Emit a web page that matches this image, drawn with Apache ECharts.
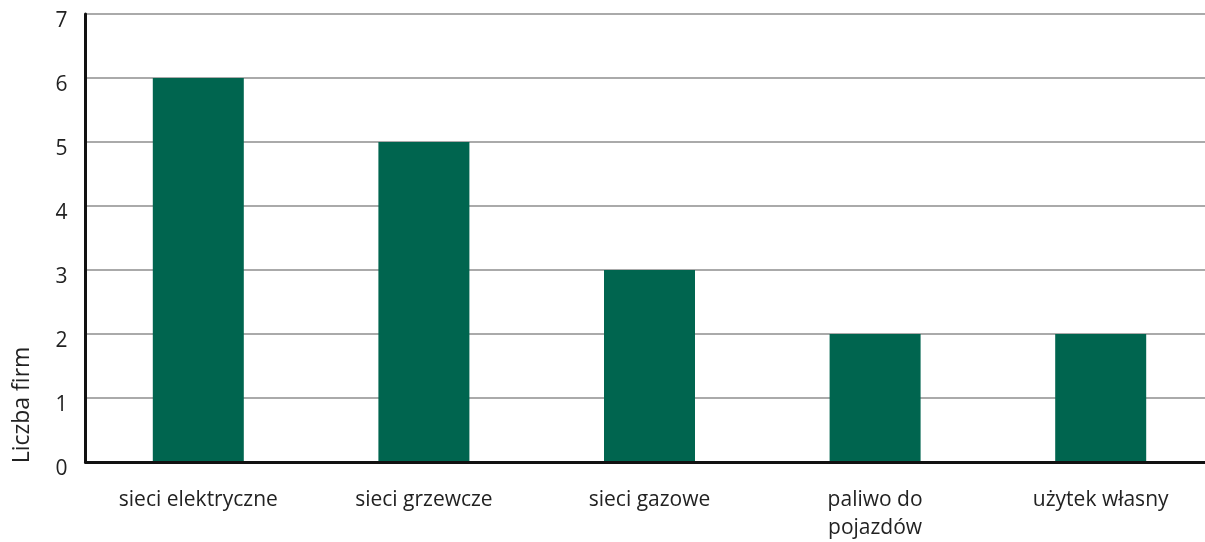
<!DOCTYPE html>
<html><head><meta charset="utf-8">
<script src="https://cdn.jsdelivr.net/npm/echarts@6/dist/echarts.min.js"></script>
<style>html,body{margin:0;padding:0;background:#fff}#c{width:1205px;height:542px}</style>
</head><body><div id="c"></div>
<script>
const categories = ['sieci elektryczne', 'sieci grzewcze', 'sieci gazowe', 'paliwo do\npojazdów', 'użytek własny'];
const values = [6, 5, 3, 2, 2];
const yTicks = [0, 1, 2, 3, 4, 5, 6, 7];
const yAxisTitle = 'Liczba firm';

const chart = echarts.init(document.getElementById('c'));
const font = '"Open Sans", "Noto Sans", sans-serif';
chart.setOption({
  animation: false,
  grid: { left: 85.5, top: 14, width: 1128, height: 448, containLabel: false, outerBoundsMode: 'none' },
  xAxis: {
    type: 'category', data: categories,
    axisLine: { show: true, lineStyle: { color: '#111', width: 3 } },
    axisTick: { show: false },
    axisLabel: { color: '#222', fontSize: 21, fontFamily: font, margin: 24, lineHeight: 28, interval: 0 },
    z: 5
  },
  yAxis: {
    type: 'value', min: yTicks[0], max: yTicks[yTicks.length - 1], interval: 1,
    axisLine: { show: true, lineStyle: { color: '#111', width: 3 } },
    axisTick: { show: false },
    splitLine: { show: true, lineStyle: { color: '#aaa', width: 2 } },
    axisLabel: { color: '#222', fontSize: 21, fontFamily: font, margin: 18, verticalAlign: 'top', lineHeight: 15 }
  },
  graphic: [{
    type: 'text', x: 22, y: 405, rotation: Math.PI / 2,
    style: { text: yAxisTitle, fill: '#222', fontSize: 23, fontFamily: font, textAlign: 'center', textVerticalAlign: 'middle' }
  }],
  series: [{
    type: 'bar', data: values, barWidth: 91,
    itemStyle: { color: '#00654f' }
  }]
});
</script></body></html>
